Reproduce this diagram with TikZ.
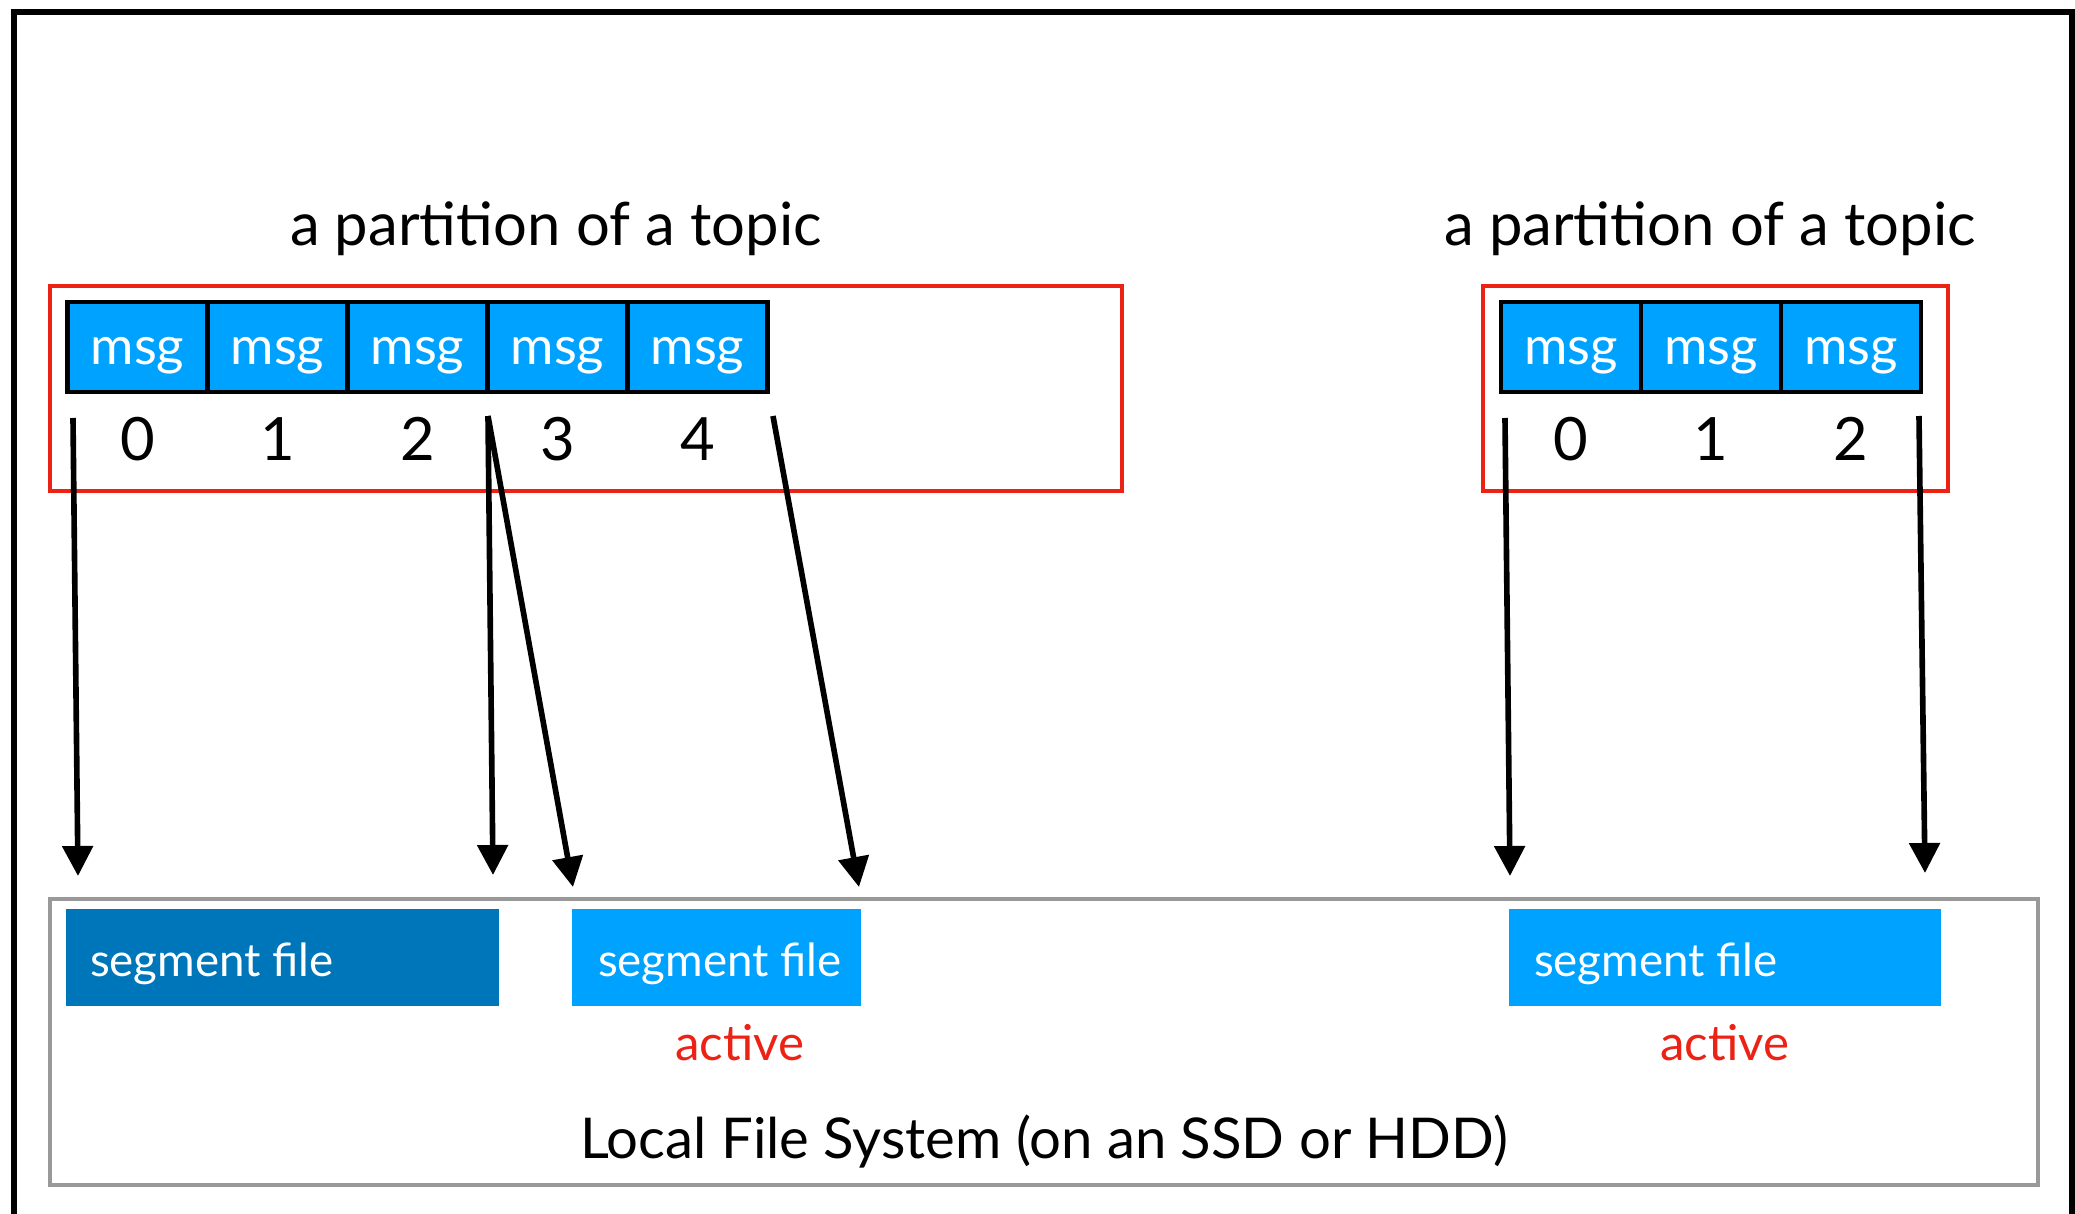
\documentclass[tikz,border=0pt]{standalone}
\usepackage{fontspec}
\setmainfont{Lato}
\usepackage{xcolor}
\usetikzlibrary{arrows.meta,positioning}
\definecolor{msgblue}{RGB}{0,162,255}
\definecolor{segdark}{RGB}{0,118,186}
\definecolor{partred}{RGB}{236,34,21}
\definecolor{fsgray}{RGB}{153,153,153}
\tikzset{
  msgbox/.style={draw=black, line width=1.4pt, fill=msgblue, text=white,
    minimum width=14mm, minimum height=9mm, inner sep=0pt, outer sep=0pt,
    text height=10pt, text depth=0pt, font=\fontsize{15}{18}\selectfont},
  offset/.style={font=\fontsize{17}{20}\selectfont},
  ptitle/.style={font=\fontsize{17}{21}\selectfont},
  segbox/.style={fill=#1, minimum height=9.7mm, inner sep=0pt},
  segtext/.style={text=white, anchor=west, inner sep=0pt, font=\fontsize{13}{16}\selectfont},
  activelabel/.style={text=partred, font=\fontsize{14}{17}\selectfont},
  append/.style={line width=1.6pt, -{Triangle[width=3mm,length=3mm]}},
}
\begin{document}
\begin{tikzpicture}[x=0.1mm,y=-0.1mm]
  \useasboundingbox (0,0) rectangle (2075,1214);
  %Frame
  \draw[line width=1.5pt] (14,1214) -- (14,12) -- (2072,12) -- (2072,1214);
  %Partitions
  \draw[partred, line width=1.3pt] (50,286) rectangle (1122,491);
  \draw[partred, line width=1.3pt] (1483,286) rectangle (1948,491);
  \node[ptitle] (t0) at (556,229) {a partition of a topic};
  \node[ptitle] (t1) at (1710,229) {a partition of a topic};
  \foreach \i in {0,...,4}{
    \node[msgbox] (m\i) at ({137.5+140*\i},347) {msg};
    \node[offset] (d\i) at ({137.5+140*\i},439) {\i};
  }
  \foreach \i in {0,...,2}{
    \node[msgbox] (n\i) at ({1571+140*\i},347) {msg};
    \node[offset] (e\i) at ({1571+140*\i},439) {\i};
  }
  %File system
  \draw[fsgray, line width=1.4pt] (50,899) rectangle (2038,1185);
  \node[segbox=segdark, minimum width=43.3mm] (s0) at (282.5,957.5) {};
  \node[segbox=msgblue, minimum width=28.9mm] (s1) at (716.5,957.5) {};
  \node[segbox=msgblue, minimum width=43.2mm] (s2) at (1725,957.5) {};
  \node[segtext] (s0t) at ([xshift=2.4mm,yshift=-0.6mm]s0.west) {segment file};
  \node[segtext] (s1t) at ([xshift=2.6mm,yshift=-0.6mm]s1.west) {segment file};
  \node[segtext] (s2t) at ([xshift=2.5mm,yshift=-0.6mm]s2.west) {segment file};
  \node[activelabel] (a1) at (740,1043) {active};
  \node[activelabel] (a2) at (1725,1043) {active};
  \node[font=\fontsize{16}{19}\selectfont] (fs) at (1044,1142) {Local File System (on an SSD or HDD)};
  %Arrows
  \coordinate (p0) at (73,418);
  \coordinate (p2) at (488,416);
  \coordinate (p4) at (773,416);
  \coordinate (q0) at (78,876);
  \coordinate (q1) at (493,875);
  \coordinate (q2) at (573,887);
  \coordinate (q3) at (859,887);
  \coordinate (r0) at (1505,418);
  \coordinate (r2) at (1919,416);
  \coordinate (q4) at (1510,876);
  \coordinate (q5) at (1925,873);
  \draw[append] (p0) -- (q0);
  \draw[append] (p2) -- (q1);
  \draw[append] (p2) -- (q2);
  \draw[append] (p4) -- (q3);
  \draw[append] (r0) -- (q4);
  \draw[append] (r2) -- (q5);
\end{tikzpicture}
\end{document}
